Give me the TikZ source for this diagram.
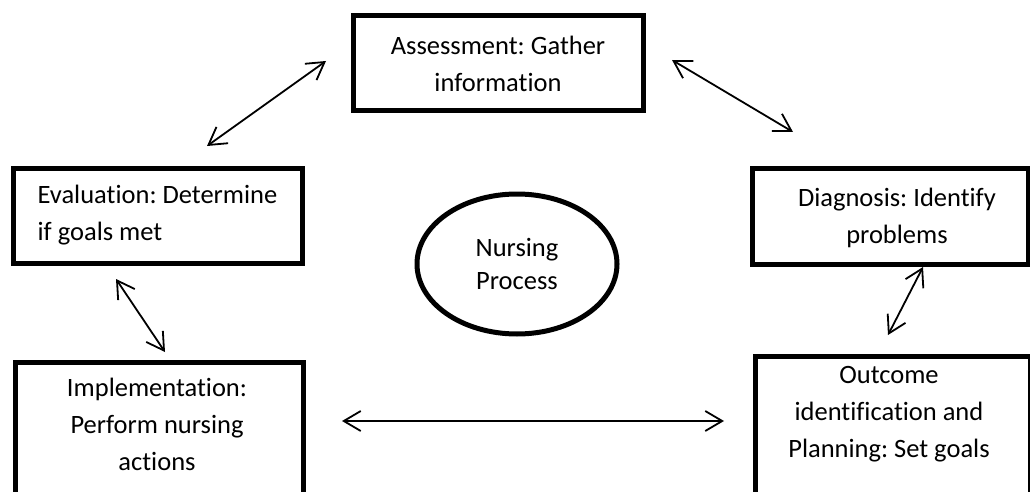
\documentclass[tikz,border=0pt]{standalone}
\usepackage{fontspec}
\setmainfont{Carlito}[RawFeature={-liga;-clig;-dlig}]
\frenchspacing
\usetikzlibrary{arrows.meta,shapes.geometric}
\begin{document}
\begin{tikzpicture}[x=1pt,y=-1pt,
  box/.style={draw=black,line width=5pt,rectangle,inner sep=0pt},
  txt/.style={align=center,inner sep=0pt,font=\fontsize{26.5}{37}\selectfont},
  oval/.style={draw=black,line width=5pt,ellipse,inner sep=0pt,minimum width=200pt,minimum height=140pt,align=center,font=\fontsize{26.5}{33}\selectfont},
  link/.style={line width=1.8pt,{Straight Barb[length=17pt,width=20pt,line width=1.8pt]}-{Straight Barb[length=17pt,width=20pt,line width=1.8pt]}}
]
\useasboundingbox (0,0) rectangle (1030,492);
\begin{scope}
\clip (0,0) rectangle (1030,492);
% boxes
\node[box,minimum width=290pt,minimum height=95pt,txt] (assess) at (498,63.5) {Assessment: Gather\\information};
\node[box,minimum width=289pt,minimum height=95pt,txt,align=left] (eval) at (157.5,215.5) {Evaluation: Determine\\if goals met};
\node[box,minimum width=276pt,minimum height=96pt] (diagbox) at (890,216) {};
\node[txt] (diag) at (897,218) {Diagnosis: Identify\\problems};
\node[box,minimum width=275pt,minimum height=200pt,anchor=north west] (outbox) at (753,354) {};
\node[txt] (outc) at (889,414) {Outcome\\identification and\\Planning: Set goals};
\node[box,minimum width=288pt,minimum height=200pt,anchor=north west] (implbox) at (13,360) {};
\node[txt] (impl) at (157,424) {Implementation:\\Perform nursing\\actions};
\node[oval] (np) at (517,264) {Nursing\\Process};
\end{scope}
% connector ends
\coordinate (a1) at (326,61);  \coordinate (e1) at (207,146);
\coordinate (a2) at (672,60);  \coordinate (d2) at (793,132);
\coordinate (d3) at (923,267); \coordinate (o3) at (888,335);
\coordinate (e4) at (116,279); \coordinate (i4) at (165,352);
\coordinate (i5) at (342,421); \coordinate (o5) at (724,421);
\draw[link] (e1) -- (a1);
\draw[link] (a2) -- (d2);
\draw[link] (d3) -- (o3);
\draw[link] (e4) -- (i4);
\draw[link] (i5) -- (o5);
\end{tikzpicture}
\end{document}
